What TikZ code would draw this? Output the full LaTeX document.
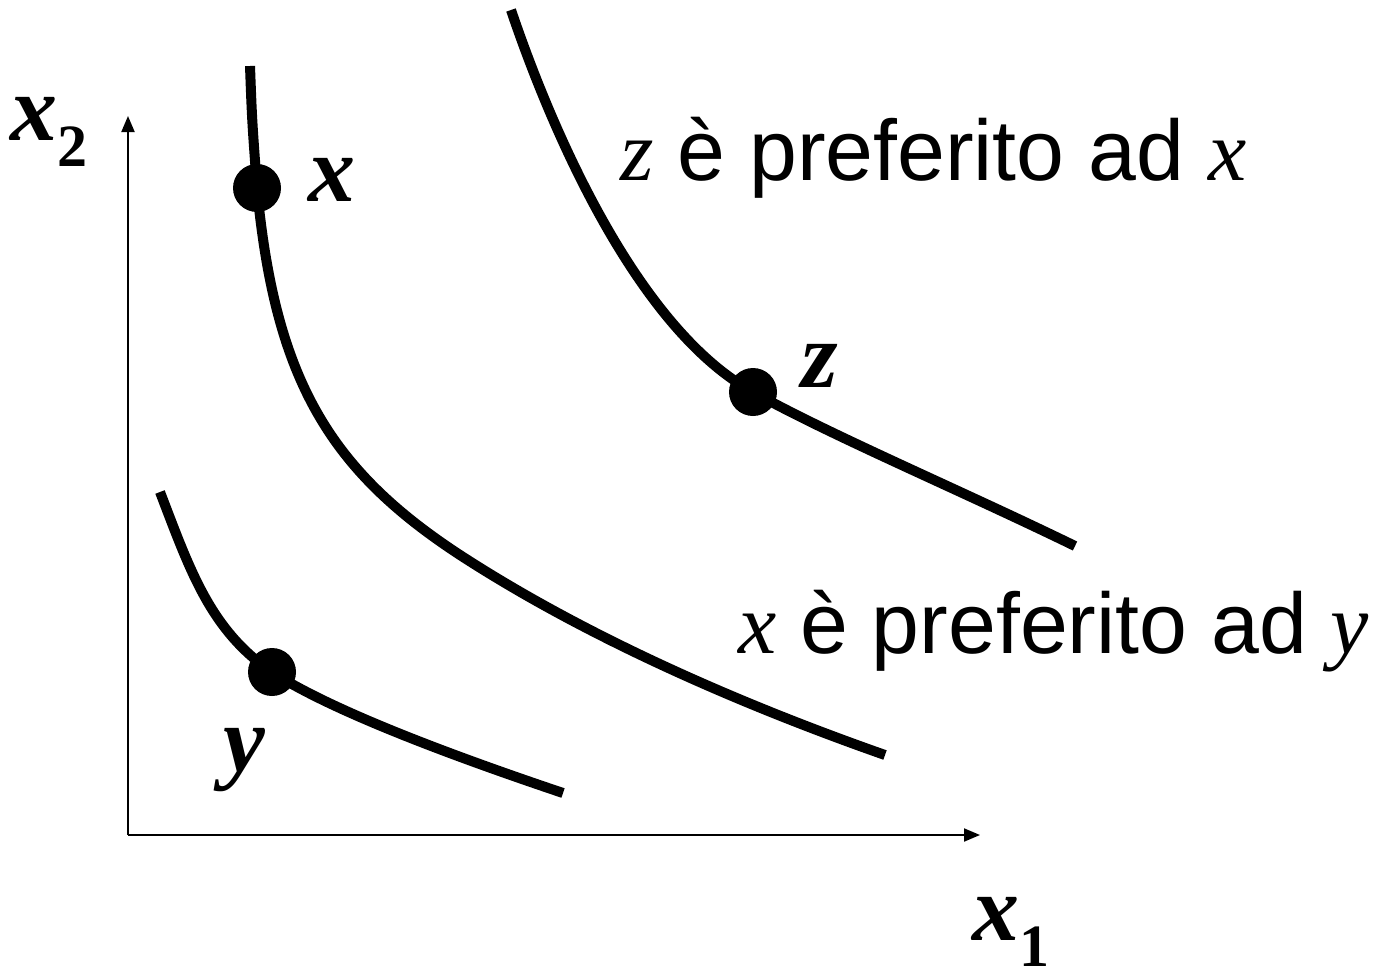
\documentclass[tikz,border=0pt]{standalone}
\usepackage{fontspec}
\setmainfont{Liberation Serif}
\setsansfont{Liberation Sans}
\usetikzlibrary{arrows.meta}
\tikzset{
  axis/.style={line width=2pt,-{Triangle[length=16pt,width=13pt]}},
  curve/.style={line width=10pt},
  dot/.style={circle,fill=black,inner sep=0pt,minimum size=48pt},
  biglab/.style={font=\fontsize{94}{100}\selectfont\bfseries\itshape,inner sep=0pt},
  sentence/.style={font=\fontsize{86}{96}\selectfont\sffamily,inner sep=0pt,anchor=base west},
}
\newcommand{\mvar}[1]{{\rmfamily\itshape #1}}
\newcommand{\subnum}[1]{\raisebox{-0.28em}{\fontsize{60}{64}\selectfont\bfseries\upshape #1}}
\begin{document}
\begin{tikzpicture}[x=1pt,y=-1pt]
\useasboundingbox (0,0) rectangle (1375,977);
% axes
\coordinate (O) at (128,835);
\coordinate (ytop) at (128,116);
\coordinate (xend) at (980,835);
\draw[axis] (O) -- (ytop);
\draw[axis] (O) -- (xend);
% dots
\node[dot] (px) at (257,188) {};
\node[dot] (pz) at (753,392) {};
\node[dot] (py) at (272,672) {};
% curves
\draw[curve] (250,66) .. controls (252,120) .. (px.center)
  .. controls (275,380) and (330,470) .. (460,555)
  .. controls (560,620) and (700,690) .. (885,755);
\draw[curve] (511,10) .. controls (555,140) and (640,330) .. (pz.center)
  .. controls (830,435) and (960,490) .. (1075,546);
\draw[curve] (160,492) .. controls (190,570) and (210,630) .. (py.center)
  .. controls (330,710) and (450,755) .. (563,793);
% labels
\node[biglab] (lx) at (332,180) {x};
\node[biglab] (lz) at (820,366) {z};
\node[biglab] (ly) at (244,760) {y};
\node[biglab,anchor=base west] (lx2) at (10,140) {x\subnum{2}};
\node[biglab,anchor=base west] (lx1) at (972,940) {x\subnum{1}};
\node[sentence] (s1) at (620,180) {\mvar{z} è preferito ad \mvar{x}};
\node[sentence] (s2) at (738,653) {\mvar{x} è preferito ad \mvar{y}};
\end{tikzpicture}
\end{document}
